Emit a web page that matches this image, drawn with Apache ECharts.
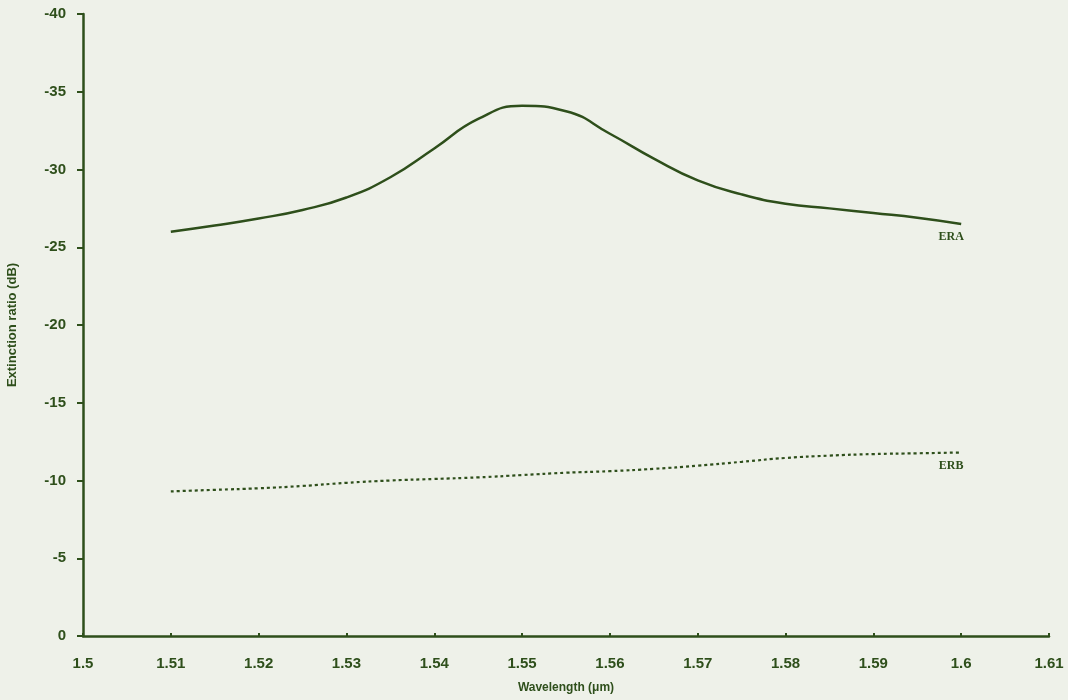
<!DOCTYPE html>
<html>
<head>
<meta charset="utf-8">
<script src="https://cdn.jsdelivr.net/npm/echarts@6/dist/echarts.min.js"></script>
<style>
html,body{margin:0;padding:0;background:#eef1e9;}
#chart{width:1068px;height:700px;}
</style>
</head>
<body>
<div id="chart"></div>
<script>
const wavelength = [1.51,1.515,1.52,1.525,1.53,1.535,1.54,1.545,1.55,1.555,1.56,1.565,1.57,1.575,1.58,1.585,1.59,1.595,1.6];
const eraValues  = [-26.0,-26.4,-26.85,-27.4,-28.2,-29.5,-31.35,-33.25,-34.1,-33.75,-32.3,-30.7,-29.3,-28.4,-27.8,-27.5,-27.2,-26.9,-26.5];
const erbValues  = [-9.3,-9.4,-9.5,-9.65,-9.85,-10.0,-10.1,-10.2,-10.35,-10.5,-10.6,-10.75,-10.95,-11.2,-11.45,-11.6,-11.7,-11.75,-11.8];
const seriesNames = ['ERA','ERB'];
const xTicks = ['1.5','1.51','1.52','1.53','1.54','1.55','1.56','1.57','1.58','1.59','1.6','1.61'];

const ink = '#2e4f1b';
function pairs(values){ return values.map((v,i)=>[wavelength[i], v]); }
const endLabel = (name)=>({show:true, formatter:name, align:'center', verticalAlign:'middle', distance:0, offset:[-10,13],
  fontFamily:'Liberation Serif', fontWeight:'bold', fontSize:12, color:ink});
const chart = echarts.init(document.getElementById('chart'), null, {renderer:'canvas'});
chart.setOption({
  backgroundColor:'#eef1e9',
  animation:false,
  grid:{left:83, right:19, top:14, bottom:64, outerBoundsMode:'none', containLabel:false},
  xAxis:{
    type:'value', min:1.5, max:1.61, interval:0.01,
    name:'Wavelength (μm)', nameLocation:'middle', nameGap:46,
    nameTextStyle:{fontFamily:'Liberation Sans', fontWeight:'bold', fontSize:12, color:ink},
    axisLine:{lineStyle:{color:ink, width:2.5}},
    axisTick:{inside:true, length:3, lineStyle:{color:ink, width:2}},
    splitLine:{show:false},
    axisLabel:{margin:20, fontFamily:'Liberation Sans', fontWeight:'bold', fontSize:15, color:ink,
      formatter:(v)=>{const i=Math.round((v-1.5)/0.01); return xTicks[i]!==undefined?xTicks[i]:'';}}
  },
  yAxis:{
    type:'value', min:-40, max:0, interval:5, inverse:true,
    name:'Extinction ratio (dB)', nameLocation:'middle', nameGap:64, nameRotate:90,
    nameTextStyle:{fontFamily:'Liberation Sans', fontWeight:'bold', fontSize:13, color:ink},
    axisLine:{show:true, lineStyle:{color:ink, width:2.5}},
    axisTick:{show:true, length:6, lineStyle:{color:ink, width:2}},
    splitLine:{show:false},
    axisLabel:{margin:17, fontFamily:'Liberation Sans', fontWeight:'bold', fontSize:15, color:ink}
  },
  series:[
    {name:seriesNames[0], type:'line', smooth:0.5, symbol:'none', data:pairs(eraValues),
      lineStyle:{color:ink, width:2.5}, endLabel:endLabel(seriesNames[0])},
    {name:seriesNames[1], type:'line', smooth:0.5, symbol:'none', data:pairs(erbValues),
      lineStyle:{color:ink, width:2.2, type:[3,3]}, endLabel:endLabel(seriesNames[1])}
  ]
});
</script>
</body>
</html>
